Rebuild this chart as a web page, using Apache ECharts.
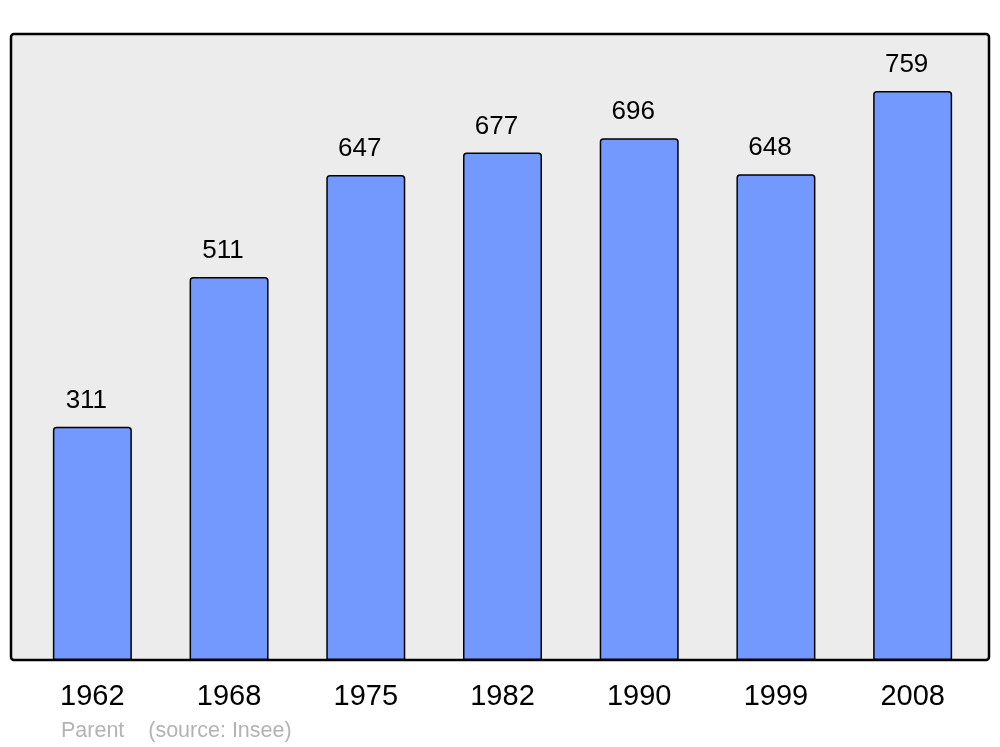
<!DOCTYPE html>
<html><head><meta charset="utf-8">
<script src="https://cdn.jsdelivr.net/npm/echarts@6/dist/echarts.min.js"></script>
<style>html,body{margin:0;padding:0;background:#fff}#c{width:1000px;height:747px}</style>
</head><body><div id="c"></div>
<script>
const years = ['1962','1968','1975','1982','1990','1999','2008'];
const population = [311,511,647,677,696,648,759];
const chart = echarts.init(document.getElementById('c'), null, {renderer:'canvas'});
const F = '"Liberation Sans", Arial, sans-serif';
chart.setOption({
  animation:false,
  backgroundColor:'#ffffff',
  title:{text:'Parent    (source: Insee)', left:61, top:720, padding:0,
    textStyle:{fontFamily:F,fontSize:21.5,fontWeight:'normal',color:'#b3b3b3'}},
  graphic:[{type:'rect', z:-1, silent:true,
    shape:{x:11,y:34,width:978,height:626,r:3},
    style:{fill:'#ececec',stroke:'#000',lineWidth:2.5}}],
  grid:{left:24,right:19,top:34,bottom:87},
  xAxis:{type:'category',data:years,
    axisLine:{show:false},axisTick:{show:false},
    axisLabel:{fontFamily:F,fontSize:29,color:'#000',margin:22}},
  yAxis:{type:'value',min:0,max:835,show:false,splitLine:{show:false}},
  series:[{type:'bar',data:population,barWidth:79,
    itemStyle:{color:'#7399ff',borderColor:'#000',borderWidth:1.5,borderRadius:[3,3,0,0]},
    label:{show:true,position:'top',distance:13,offset:[-6,0],fontFamily:F,fontSize:26,color:'#000'}}]
});
</script></body></html>
